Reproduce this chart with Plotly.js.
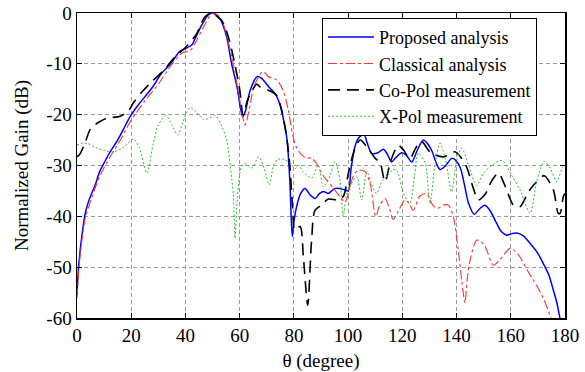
<!DOCTYPE html>
<html>
<head>
<meta charset="utf-8">
<script src="https://cdn.plot.ly/plotly-3.0.1.min.js"></script>
<style>html,body{margin:0;padding:0;background:#fff;}#chart{width:585px;height:372px;}</style>
</head>
<body>
<div id="chart"></div>
<script>
// Proposed analysis (blue)
const thetaProposed = [0,0.3,1,2,3,4,5,6.6,8.5,10,12,15,17,19.5,22,25,28,31,34.5,38,40,42.3,44.2,46,48.4,50,52.7,55.2,57,59,61.1,62,64,66.5,68,71.2,73,74.9,76.7,77.5,78.5,79.4,80,81,82.5,84.1,86,87.8,89.5,90.9,92.7,95.2,98.9,100.1,101,102.5,104,105.9,107,108.7,111,113,114.5,116,117.5,119.8,121.5,123.5,125.5,127.7,129,130.8,132.5,133.9,136,138.2,139.5,141.4,143,144.4,146.5,148.5,150.5,152.5,154.8,156.5,158.5,160.5,162.2,164.5,167.1,170,172,174,175.7,177,177.9,178.5];
const gainProposed = [-55.5,-52,-47.5,-43,-39.5,-37.5,-36,-34,-31,-29.5,-27.5,-25,-23,-20.5,-18.5,-16.5,-14.5,-12,-10,-7.5,-7,-6.3,-4.3,-2.4,-0.4,0,-1.1,-4.7,-9.9,-14.5,-20.4,-19.5,-15,-12.5,-12.8,-14.8,-15.8,-18.1,-22.4,-25,-33,-44,-41,-38.1,-35.5,-34.5,-35.8,-36.5,-35.5,-35.1,-35.5,-34.5,-34.8,-35,-31,-26.3,-24.5,-23.9,-25.5,-27.6,-27.5,-26.8,-27.8,-29.3,-28.5,-27.5,-28,-29.3,-27,-25,-25.5,-27,-29.5,-30.8,-30,-28.6,-28.9,-30.5,-34,-37.4,-39.6,-38.5,-37.8,-39,-41.4,-43,-43.7,-43.4,-43.3,-43.8,-45.3,-47.3,-49.3,-51.5,-54.5,-57,-59.4,-61];

// Classical analysis (red)
const thetaClassical = [0,1,2,3,5,8.5,12,16,19.5,25,30,34.3,38.6,41.7,44.2,46.7,49.2,50.4,53,56.4,58,60,62,63.5,65,67,68.7,70.5,73.7,76,77.9,79.7,81,82.9,84.5,86.6,88.4,90.2,92.1,94.6,97,98.9,100.7,102,103.8,106.2,108.1,110.2,111.5,113.6,115,116.6,118.5,121,122.5,124,126.5,129,130.2,131.5,133.3,135,137,138.8,140.7,142,143.1,144,145,147.4,149,150.6,153.6,156,159.7,161.5,163.4,166,168.3,170.5,172,174.5,175.5];
const gainClassical = [-56,-48.5,-44,-40.5,-37,-32,-28.5,-25,-21.5,-17.3,-14,-10.6,-7.9,-7.4,-5.3,-2.7,-0.4,0,-1,-7,-11,-17,-22,-19,-15,-12.5,-11.5,-12.5,-13.2,-15.2,-19,-24.3,-26.5,-27.9,-28.5,-28.6,-29.6,-31.5,-32.9,-34.5,-36.1,-37.2,-34.2,-32,-30.9,-31.2,-33.5,-40,-38,-36.5,-38,-40.6,-39,-36.8,-37.5,-38.8,-36,-35.5,-36.8,-38,-38.4,-37.8,-37.8,-40,-47,-53,-57,-52,-48.6,-44.7,-45,-46,-49.6,-48.5,-46.3,-46.8,-48,-50.5,-52.5,-54.5,-56.1,-59.5,-61];

// Co-Pol measurement (black)
const thetaCoPol = [0,1,3,5,8,11,16,19,21,24,28,32,36,40,44,47,49.5,52,54,56,58,60,61.3,63,66.3,67.5,71.8,73.6,75.5,77.3,78.5,79.5,80.4,82.3,83.5,85.1,86.5,87.8,90.2,92.7,96.4,98.3,100.1,102,104.4,106.9,110,111.8,113.6,115.5,117.3,118.5,120.5,122.8,125,127.1,130.5,135.1,139.4,141,143.7,146.2,148,150.6,153,155.4,157.5,159.7,161,163.4,166.5,169,172.3,175.7,177.5,178.2,179.4,180];
const gainCoPol = [-28.3,-27.8,-25.5,-22.8,-21.5,-20.7,-20.3,-19.2,-17.5,-15.5,-13.3,-11.3,-8.7,-6.8,-4.2,-0.9,0,-0.8,-2,-5,-9.5,-15,-20.1,-17,-14,-14.5,-15.5,-16.2,-19.1,-24.3,-30,-38,-42.7,-42,-48,-57.5,-45,-38.8,-37.8,-36.6,-36.8,-36,-31.5,-27.5,-25,-26.3,-28.6,-29.5,-33.2,-29.5,-27,-26,-27,-28.6,-26.5,-25.3,-27.5,-28.3,-27.3,-28,-30.3,-34.5,-36.8,-35.6,-33,-31.5,-33.5,-36.5,-37.8,-38.1,-35.2,-33.5,-32,-34.8,-39.4,-39.4,-36.1,-35.5];

// X-Pol measurement (green)
const thetaXPol = [0,2,4,7,10,13.5,17,20.8,23,25.8,28,30,32.8,35,37.2,39,41.7,44,46.8,49,51,53,55.2,56.5,57.7,58.3,59.2,60.5,62,64.5,67,69,70.9,72.5,74,76.5,78.5,80.4,82,83.1,85,86.6,89,90.9,93.3,95.2,97,98.2,99.3,100.5,103.2,105,106.9,108.7,110.5,112.4,114.8,116.5,118,120.4,122.8,124.5,125.9,128.4,130.2,132,133.9,136,138.2,140,141.9,144.4,147.4,150,153,156.7,160.3,163.4,167.1,169.6,172.3,174.5,176.9,179,180];
const gainXPol = [-26,-25.6,-25.7,-26.5,-27,-27.3,-26.5,-24.8,-26.5,-31.5,-26,-22,-20.2,-22,-24,-21.5,-18.6,-19.5,-21,-20.6,-20.2,-21.8,-25,-30,-36,-44.3,-36,-30.5,-29.6,-30.5,-28.3,-30.5,-33.8,-30,-28.8,-28.8,-29.5,-30.6,-30,-31.1,-32,-32.5,-29.9,-34.2,-32,-29.2,-33,-40,-36,-34.3,-32.2,-36.8,-31.2,-33.7,-35.5,-33.2,-31.9,-30.8,-31,-35.5,-37.4,-32,-27.6,-29.5,-37.5,-30,-25.6,-29,-35.2,-29,-26.6,-29.9,-33.9,-31.5,-30,-29,-31.9,-34.8,-39.4,-33,-29.2,-30.5,-33.2,-30.5,-30];

const seriesNames = ["Proposed analysis","Classical analysis","Co-Pol measurement","X-Pol measurement"];
const xTicks = [0,20,40,60,80,100,120,140,160,180];
const yTicks = [0,-10,-20,-30,-40,-50,-60];

const traces = [
  {x: thetaProposed, y: gainProposed, name: seriesNames[0], mode: 'lines',
   line: {color: '#0000ff', width: 1.5, shape: 'spline', smoothing: 0.8}},
  {x: thetaClassical, y: gainClassical, name: seriesNames[1], mode: 'lines',
   line: {color: '#ff3333', width: 1.1, dash: 'dashdot', shape: 'spline', smoothing: 0.8}},
  {x: thetaCoPol, y: gainCoPol, name: seriesNames[2], mode: 'lines',
   line: {color: '#000000', width: 1.6, dash: '12px,7px', shape: 'spline', smoothing: 0.8}},
  {x: thetaXPol, y: gainXPol, name: seriesNames[3], mode: 'lines',
   line: {color: '#33bb33', width: 1, dash: '2px,2px', shape: 'spline', smoothing: 0.8}}
];

const fontFam = '"Liberation Serif", "Times New Roman", serif';
const layout = {
  width: 585, height: 372,
  margin: {l: 77, r: 20, t: 13, b: 54},
  paper_bgcolor: '#ffffff', plot_bgcolor: '#ffffff',
  font: {family: fontFam, size: 19, color: '#000'},
  showlegend: true,
  legend: {x: 0.502, y: 0.984, xanchor: 'left', yanchor: 'top',
    bordercolor: '#000', borderwidth: 1, bgcolor: '#fff', itemwidth: 46,
    font: {family: fontFam, size: 18, color: '#000'}, tracegroupgap: 0},
  xaxis: {range: [0, 180], tickvals: xTicks, ticktext: xTicks.map(String),
    showline: true, linecolor: '#000', linewidth: 1.5, mirror: 'ticks',
    ticks: 'inside', ticklen: 5, tickcolor: '#000',
    showgrid: true, gridcolor: '#999', griddash: '4px,3px', gridwidth: 1,
    zeroline: false, tickfont: {family: fontFam, size: 19},
    title: {text: 'θ (degree)', font: {family: fontFam, size: 19}, standoff: 10}},
  yaxis: {range: [-60, 0], tickvals: yTicks, ticktext: yTicks.map(String),
    showline: true, linecolor: '#000', linewidth: 1.5, mirror: 'ticks',
    ticks: 'inside', ticklen: 5, tickcolor: '#000',
    showgrid: true, gridcolor: '#999', griddash: '4px,3px', gridwidth: 1,
    zeroline: false, tickfont: {family: fontFam, size: 19},
    title: {text: 'Normalized Gain (dB)', font: {family: fontFam, size: 19}, standoff: 12}}
};

Plotly.newPlot('chart', traces, layout, {staticPlot: true, displayModeBar: false});
</script>
</body>
</html>
